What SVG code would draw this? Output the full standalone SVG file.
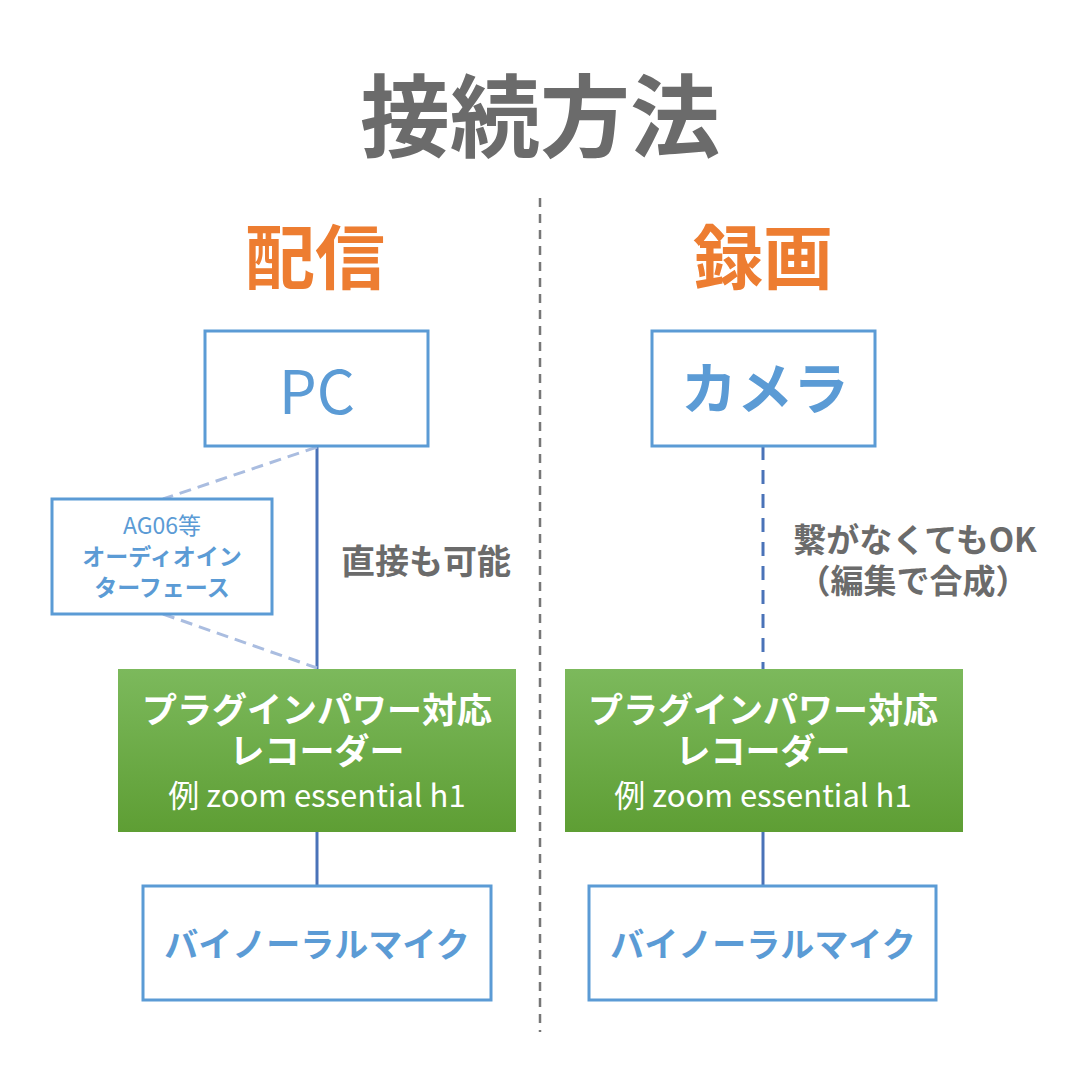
<svg xmlns="http://www.w3.org/2000/svg" width="1080" height="1080" viewBox="0 0 1080 1080">
<defs>
<linearGradient id="g" x1="0" y1="0" x2="0" y2="1"><stop offset="0" stop-color="#7cb95c"/><stop offset="1" stop-color="#5e9e34"/></linearGradient>
<style>
text{font-family:"Noto Sans CJK JP","Noto Sans",sans-serif;text-anchor:middle}
.box{fill:#fff;stroke:#5b9bd5;stroke-width:3}
.gbox{fill:url(#g)}
.blue{fill:#5b9bd5}
.gray{fill:#6b6b6b;font-weight:bold}
.w{fill:#fff}
.b{font-weight:bold}
</style>
</defs>
<rect width="1080" height="1080" fill="#fff"/>
<text x="540" y="150" class="gray" font-size="90">接続方法</text>
<text x="315" y="284" font-size="70" class="b" fill="#ed7d31">配信</text>
<text x="763" y="284" font-size="70" class="b" fill="#ed7d31">録画</text>
<g id="connectors">
<line x1="540" y1="198" x2="540" y2="1032" stroke="#777" stroke-width="2.5" stroke-dasharray="9,7"/>
<line x1="317" y1="446" x2="317" y2="669" stroke="#4a73b8" stroke-width="3"/>
<line x1="317" y1="832" x2="317" y2="886" stroke="#4a73b8" stroke-width="3"/>
<line x1="763" y1="446" x2="763" y2="669" stroke="#4a73b8" stroke-width="3" stroke-dasharray="14,10"/>
<line x1="763" y1="832" x2="763" y2="886" stroke="#4a73b8" stroke-width="3"/>
<line x1="317" y1="447" x2="163" y2="499" stroke="#aabde0" stroke-width="3" stroke-dasharray="12,7"/>
<line x1="163" y1="614" x2="317" y2="668" stroke="#aabde0" stroke-width="3" stroke-dasharray="12,7"/>
</g>
<g id="pc"><rect class="box" x="205" y="331" width="223" height="115"/><text x="317" y="414" font-size="60" class="blue" font-family="Liberation Sans">PC</text></g>
<g id="camera"><rect class="box" x="652" y="331" width="223" height="115"/><text x="765" y="409" font-size="56" class="blue b">カメラ</text></g>
<g id="ag06"><rect class="box" x="52" y="499" width="220" height="115"/>
<text x="162" y="534" font-size="23" class="blue">AG06等</text>
<text x="162" y="565" font-size="23" class="blue b">オーディオイン</text>
<text x="162" y="596" font-size="23" class="blue b">ターフェース</text></g>
<text x="426" y="574" font-size="34" class="gray">直接も可能</text>
<text x="915" y="552" font-size="33" class="gray">繋がなくてもOK</text>
<text x="913" y="593" font-size="33" class="gray">（編集で合成）</text>
<g id="rec1"><rect class="gbox" x="118" y="669" width="398" height="163"/>
<text x="317" y="723" font-size="35" class="w b">プラグインパワー対応</text>
<text x="317" y="764" font-size="35" class="w b">レコーダー</text>
<text x="317" y="807" font-size="31" class="w">例 zoom essential h1</text></g>
<g id="rec2"><rect class="gbox" x="565" y="669" width="398" height="163"/>
<text x="763" y="723" font-size="35" class="w b">プラグインパワー対応</text>
<text x="763" y="764" font-size="35" class="w b">レコーダー</text>
<text x="763" y="807" font-size="31" class="w">例 zoom essential h1</text></g>
<g id="mic1"><rect class="box" x="143" y="886" width="348" height="114"/><text x="317" y="957" font-size="34" class="blue b">バイノーラルマイク</text></g>
<g id="mic2"><rect class="box" x="589" y="886" width="347" height="114"/><text x="763" y="957" font-size="34" class="blue b">バイノーラルマイク</text></g>
</svg>
